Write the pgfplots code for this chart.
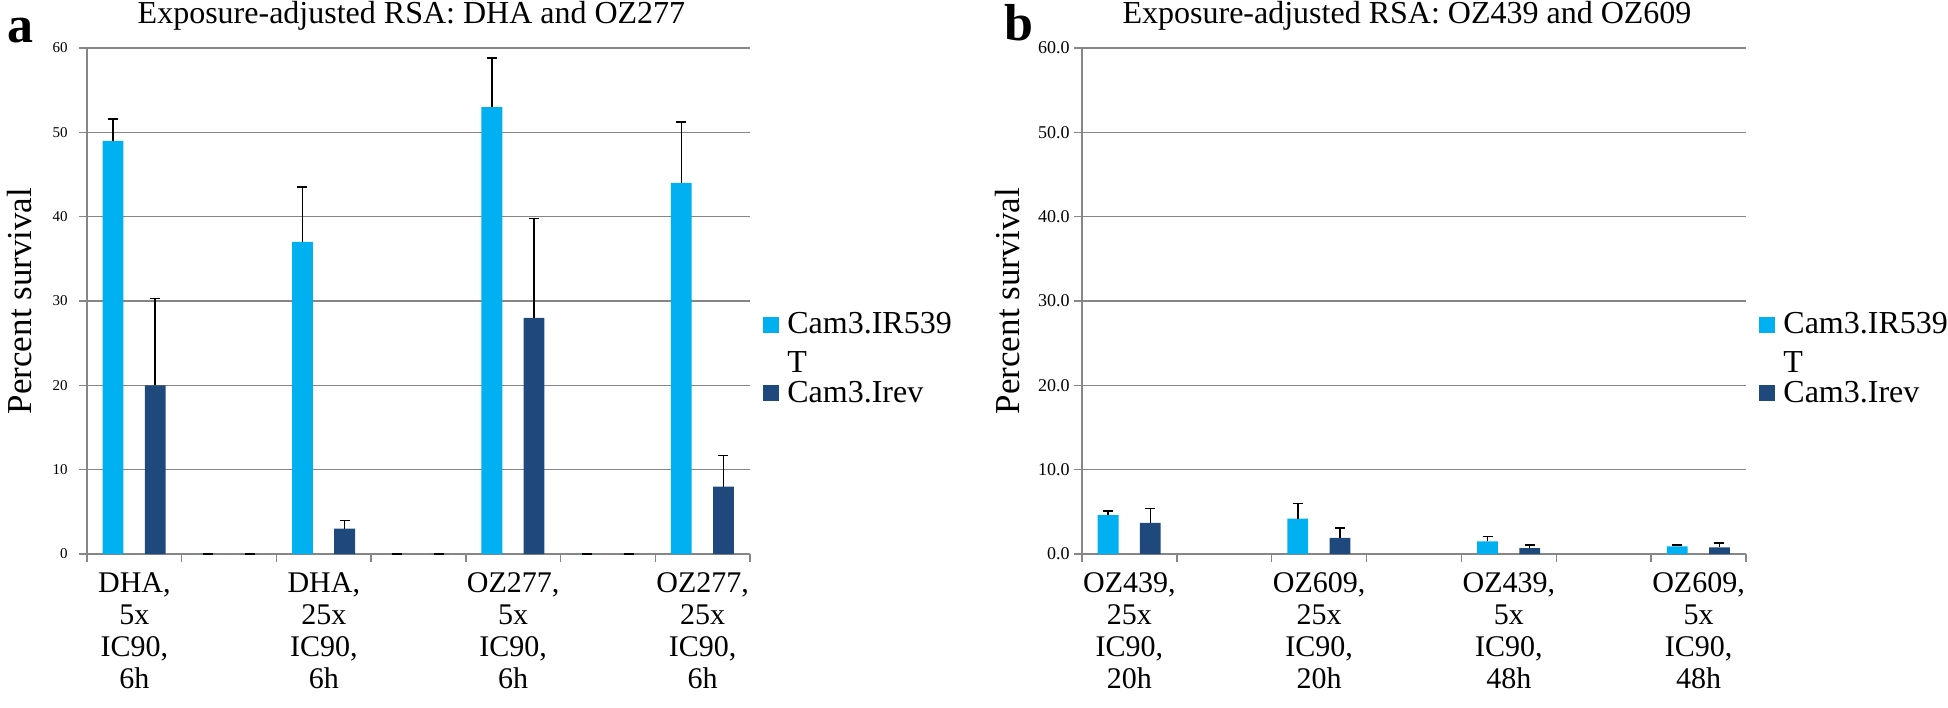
\documentclass[border=0pt]{standalone}
\usepackage{fontspec}
\setmainfont{Liberation Serif}
\newfontfamily\tnr{Liberation Serif}
\usepackage{pgfplots}
\usepackage{pgfplotstable}
\pgfplotsset{compat=1.18}
\definecolor{lightbar}{RGB}{0,176,240}
\definecolor{darkbar}{RGB}{31,73,125}
\definecolor{gridgray}{RGB}{134,134,134}

\pgfplotsset{
  rsa/.style={
    scale only axis, height=253pt, anchor=south west,
    xmin=-0.5, xmax=6.5, ymin=0, ymax=60,
    axis x line*=bottom, axis y line*=left,
    axis line style={gridgray, line width=0.75pt},
    ymajorgrids, grid style={gridgray, line width=0.75pt},
    ytick={0,10,...,60},
    xtick={-0.5,0.5,...,6.5}, xticklabels={},
    tick align=outside, major tick length=4pt,
    tick style={gridgray, line width=0.75pt},
    extra x ticks={0,2,4,6},
    extra x tick style={major tick length=0pt},
    xticklabel style={align=center, anchor=north, inner sep=0pt, yshift=-9pt,
      font=\tnr\fontsize{15}{16}\selectfont},
    /pgf/number format/assume math mode=true,
    clip=false,
  },
  errs/.style={error bars/.cd, y dir=plus, y explicit,
    error bar style={black, line width=0.75pt},
    error mark options={rotate=90, black, mark size=2.5pt, line width=0.75pt}},
  lightbars/.style={ybar, bar width=0.22, bar shift=0pt, fill=lightbar, draw=none, errs},
  darkbars/.style={ybar, bar width=0.22, bar shift=0pt, fill=darkbar, draw=none, errs},
}

% x = category position (0..6), y = percent survival, e = upper error
\pgfplotstableread{
x y e
0 49 2.6
1 0 0
2 37 6.5
3 0 0
4 53 5.8
5 0 0
6 44 7.2
}\alight
\pgfplotstableread{
x y e
0 20 10.3
1 0 0
2 3 1.0
3 0 0
4 28 11.8
5 0 0
6 8 3.7
}\adark
\pgfplotstableread{
x y e
0 4.6 0.5
2 4.2 1.8
4 1.5 0.6
6 0.9 0.15
}\blight
\pgfplotstableread{
x y e
0 3.7 1.7
2 1.9 1.2
4 0.7 0.35
6 0.8 0.5
}\bdark

\begin{document}
\begin{tikzpicture}
\useasboundingbox (0,0) rectangle (974pt,353.5pt);

\begin{axis}[rsa, name=A, at={(43.5pt,76.5pt)}, width=331.5pt,
  extra x tick labels={{DHA,\\5x\\IC90,\\6h},{DHA,\\25x\\IC90,\\6h},
    {OZ277,\\5x\\IC90,\\6h},{OZ277,\\25x\\IC90,\\6h}},
  yticklabel style={font=\tnr\fontsize{7.5}{9}\selectfont, inner sep=0pt, xshift=-5.5pt}]
\addplot[lightbars] table[x expr=\thisrow{x}-0.225, y=y, y error=e] {\alight};
\addplot[darkbars] table[x expr=\thisrow{x}+0.22, y=y, y error=e] {\adark};
\end{axis}

\begin{axis}[rsa, name=B, at={(541pt,76.5pt)}, width=332pt,
  extra x tick labels={{OZ439,\\25x\\IC90,\\20h},{OZ609,\\25x\\IC90,\\20h},
    {OZ439,\\5x\\IC90,\\48h},{OZ609,\\5x\\IC90,\\48h}},
  yticklabel style={font=\tnr\fontsize{9}{10}\selectfont, inner sep=0pt, xshift=-2pt,
    /pgf/number format/.cd, fixed, fixed zerofill, precision=1}]
\addplot[lightbars] table[x expr=\thisrow{x}-0.225, y=y, y error=e] {\blight};
\addplot[darkbars] table[x expr=\thisrow{x}+0.22, y=y, y error=e] {\bdark};
\end{axis}

% titles, axis labels, panel letters
\foreach \ax/\ttl in {A/{Exposure-adjusted RSA: DHA and OZ277},B/{Exposure-adjusted RSA: OZ439 and OZ609}}{
  \node[anchor=base, inner sep=0pt, font=\tnr\fontsize{16}{18}\selectfont]
    at ([xshift=-3.5pt,yshift=12pt]\ax.north) {\ttl};
}
\node[rotate=90, anchor=base, inner sep=0pt, font=\tnr\fontsize{17.5}{20}\selectfont]
  at ([xshift=-27.5pt]A.west) {Percent survival};
\node[rotate=90, anchor=base, inner sep=0pt, font=\tnr\fontsize{17.5}{20}\selectfont]
  at ([xshift=-31.5pt]B.west) {Percent survival};
\node[anchor=base west, inner sep=0pt, font=\tnr\fontsize{26}{28}\bfseries] at (3.5pt,332pt) {a};
\node[anchor=base west, inner sep=0pt, font=\tnr\fontsize{26}{28}\bfseries] at (502pt,333pt) {b};

% legends
\foreach \ax in {A,B}{
  \fill[lightbar] ([xshift=6.5pt,yshift=-134.5pt]\ax.north east) rectangle ++(8pt,-8pt);
  \fill[darkbar] ([xshift=6.5pt,yshift=-168.5pt]\ax.north east) rectangle ++(8pt,-8pt);
  \node[anchor=base west, inner sep=0pt, font=\tnr\fontsize{16}{18}\selectfont]
    at ([xshift=18.5pt,yshift=-142.5pt]\ax.north east) {Cam3.IR539};
  \node[anchor=base west, inner sep=0pt, font=\tnr\fontsize{16}{18}\selectfont]
    at ([xshift=18.5pt,yshift=-162pt]\ax.north east) {T};
  \node[anchor=base west, inner sep=0pt, font=\tnr\fontsize{16}{18}\selectfont]
    at ([xshift=18.5pt,yshift=-177pt]\ax.north east) {Cam3.Irev};
}
\end{tikzpicture}
\end{document}
